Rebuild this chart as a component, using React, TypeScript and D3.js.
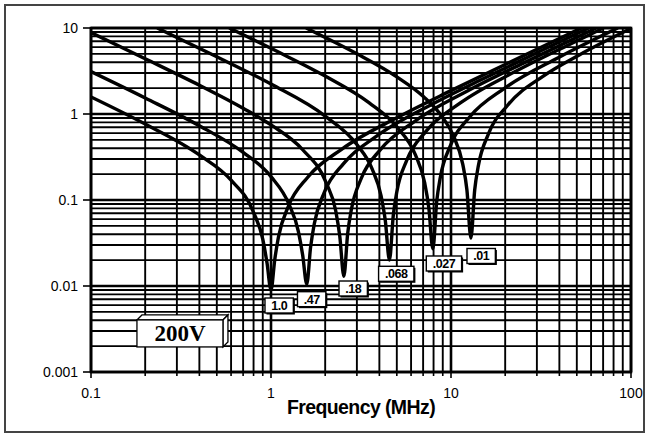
import React from "react";
import * as d3 from "d3";

// capacitor values (uF) as printed on the dip tags
const capLabels = ["1.0", ".47", ".18", ".068", ".027", ".01"];

// impedance curves: frequency (MHz) / impedance (ohm)
const freq10 = [0.1, 0.2, 0.4, 0.6, 0.8, 0.9, 0.95, 1.0, 1.05, 1.1, 1.25, 1.6, 2.5, 5, 10, 20, 53];
const ohm10 = [1.58, 0.764, 0.334, 0.17, 0.072, 0.035, 0.0186, 0.009, 0.0205, 0.0371, 0.0848, 0.184, 0.396, 0.905, 1.87, 3.76, 10];

const freq047 = [0.1, 0.2, 0.4, 0.7, 1.0, 1.26, 1.42, 1.5, 1.58, 1.66, 1.74, 1.975, 2.53, 3.95, 7.9, 15.8, 31.6, 58.1];
const ohm047 = [3.11, 1.535, 0.73, 0.358, 0.187, 0.0889, 0.043, 0.0228, 0.0105, 0.0285, 0.053, 0.122, 0.265, 0.571, 1.306, 2.69, 5.43, 10];

const freq018 = [0.1, 0.2, 0.4, 0.7, 1.0, 1.5, 2.03, 2.29, 2.41, 2.54, 2.667, 2.794, 3.175, 4.064, 6.35, 12.7, 25.4, 64];
const ohm018 = [8.83, 4.39, 2.16, 1.167, 0.747, 0.384, 0.157, 0.0746, 0.038, 0.013, 0.0409, 0.077, 0.179, 0.3875, 0.8345, 1.91, 3.93, 10];

const freq0068 = [0.2334, 0.3, 0.5, 1.0, 2.0, 3.0, 3.64, 4.095, 4.32, 4.55, 4.78, 5.005, 5.69, 7.28, 11.375, 22.75, 45.5, 70.4];
const ohm0068 = [10, 7.77, 4.62, 2.227, 0.944, 0.441, 0.2315, 0.11, 0.0565, 0.02, 0.0664, 0.1255, 0.292, 0.633, 1.363, 3.115, 6.425, 10];

const freq0027 = [0.586, 0.8, 1.2, 2, 3.5, 5, 6.344, 7.137, 7.53, 7.93, 8.33, 8.72, 9.91, 12.69, 19.8, 39.65, 84.5];
const ohm0027 = [10, 7.293, 4.8, 2.76, 1.356, 0.711, 0.3345, 0.159, 0.081, 0.027, 0.0963, 0.1827, 0.426, 0.923, 1.988, 4.544, 10];

const freq001 = [1.5675, 2, 3, 5, 7, 9, 10.32, 11.61, 12.255, 12.9, 13.545, 14.19, 16.125, 20.64, 32.25, 51.6, 100];
const ohm001 = [10, 7.767, 5.018, 2.705, 1.605, 0.908, 0.5552, 0.2629, 0.1316, 0.036, 0.1316, 0.2502, 0.5836, 1.264, 2.723, 4.863, 9.885];

// tag anchors (top-left corner of each tag, in data units)
const tagFreq = [0.926, 1.403, 2.387, 3.96, 7.29, 12.27];
const tagOhm = [0.00725, 0.00859, 0.01143, 0.01695, 0.02233, 0.0273];

const xTickLabels = ["0.1", "1", "10", "100"];
const yTickLabels = ["0.001", "0.01", "0.1", "1", "10"];
const xTitle = "Frequency (MHz)";
const voltage = "200V";

const series = [
  [freq10, ohm10],
  [freq047, ohm047],
  [freq018, ohm018],
  [freq0068, ohm0068],
  [freq0027, ohm0027],
  [freq001, ohm001],
];

const W = 648;
const H = 436;
const SANS = "'Liberation Sans', Arial, Helvetica, sans-serif";

const isDecade = (v: number) => Math.abs(Math.log10(v) - Math.round(Math.log10(v))) < 1e-6;

// rough width of a bold tag text
const tagWidth = (s: string) =>
  s.split("").reduce((a, c) => a + (c === "." ? 0.278 : 0.556), 0) * 12.5 + 11;

const App = () => {
  const x = d3.scaleLog().domain([0.1, 100]).range([91, 631]);
  const y = d3.scaleLog().domain([0.001, 10]).range([372, 28]);

  const line = d3
    .line<[number, number]>()
    .x((d) => x(d[0]))
    .y((d) => y(d[1]))
    .curve(d3.curveMonotoneX);

  const xTicks = x.ticks();
  const yTicks = y.ticks();

  // the 200V badge, anchored in data units
  const bx = x(0.18);
  const by = y(0.00403);
  const bw = 86;
  const bh = 27;
  const d = 5;

  return (
    <svg width={W} height={H} style={{ position: "absolute", left: 0, top: 0, background: "#fff" }}>
      <defs>
        <clipPath id="plot">
          <rect x={91} y={28} width={540} height={344} />
        </clipPath>
      </defs>

      <rect x={5} y={5} width={639} height={427} fill="#fff" stroke="#444" strokeWidth={2} />

      {/* grid */}
      <g stroke="#000">
        {xTicks.map((t, i) => (
          <line key={"gx" + i} x1={x(t)} x2={x(t)} y1={28} y2={372} strokeWidth={isDecade(t) ? 2.6 : 1.9} />
        ))}
        {yTicks.map((t, i) => (
          <line key={"gy" + i} x1={91} x2={631} y1={y(t)} y2={y(t)} strokeWidth={isDecade(t) ? 2.6 : 1.9} />
        ))}
      </g>

      {/* axes ticks */}
      <g stroke="#000" strokeWidth={1.6}>
        {xTicks.map((t, i) => (
          <line key={"tx" + i} x1={x(t)} x2={x(t)} y1={372} y2={isDecade(t) ? 378 : 376} />
        ))}
        {yTicks.filter(isDecade).map((t, i) => (
          <line key={"ty" + i} x1={83} x2={91} y1={y(t)} y2={y(t)} />
        ))}
      </g>
      <rect x={91} y={28} width={540} height={344} fill="none" stroke="#000" strokeWidth={2.6} />

      {/* curves */}
      <g clipPath="url(#plot)" fill="none" stroke="#000" strokeWidth={3.4} strokeLinejoin="round">
        {series.map(([f, z], i) => (
          <path key={i} d={line(f.map((v, j) => [v, z[j]] as [number, number])) || ""} />
        ))}
      </g>

      {/* dip tags */}
      {capLabels.map((s, i) => {
        const tx = x(tagFreq[i]);
        const ty = y(tagOhm[i]);
        const w = tagWidth(s);
        return (
          <g key={"tag" + i}>
            <rect x={tx + 1.5} y={ty + 1.5} width={w} height={15} fill="#000" />
            <rect x={tx} y={ty} width={w} height={15} fill="#fff" stroke="#000" strokeWidth={1.4} />
            <text x={tx + w / 2} y={ty + 12} textAnchor="middle" fontFamily={SANS} fontWeight="bold" fontSize={12.5} letterSpacing={-0.5}>
              {s}
            </text>
          </g>
        );
      })}

      {/* 200V badge */}
      <g stroke="#000" strokeWidth={1.3} fill="#fff">
        <polygon points={`${bx},${by} ${bx + d},${by - d} ${bx + bw + d},${by - d} ${bx + bw},${by}`} />
        <polygon points={`${bx + bw},${by} ${bx + bw + d},${by - d} ${bx + bw + d},${by + bh - d} ${bx + bw},${by + bh}`} />
        <rect x={bx} y={by} width={bw} height={bh} />
      </g>
      <text x={bx + bw / 2} y={by + 21} textAnchor="middle" fontFamily="'Liberation Serif', 'Times New Roman', serif" fontWeight="bold" fontSize={23}>
        {voltage}
      </text>

      {/* tick labels */}
      {yTickLabels.map((s) => (
        <text key={s} x={78} y={y(+s) + 5} textAnchor="end" fontFamily={SANS} fontSize={14}>
          {s}
        </text>
      ))}
      {xTickLabels.map((s) => (
        <text key={s} x={x(+s)} y={398} textAnchor="middle" fontFamily={SANS} fontSize={14}>
          {s}
        </text>
      ))}
      <text x={361} y={414} textAnchor="middle" fontFamily={SANS} fontWeight="bold" fontSize={19.5} letterSpacing={-0.6}>
        {xTitle}
      </text>
    </svg>
  );
};

export default App;
